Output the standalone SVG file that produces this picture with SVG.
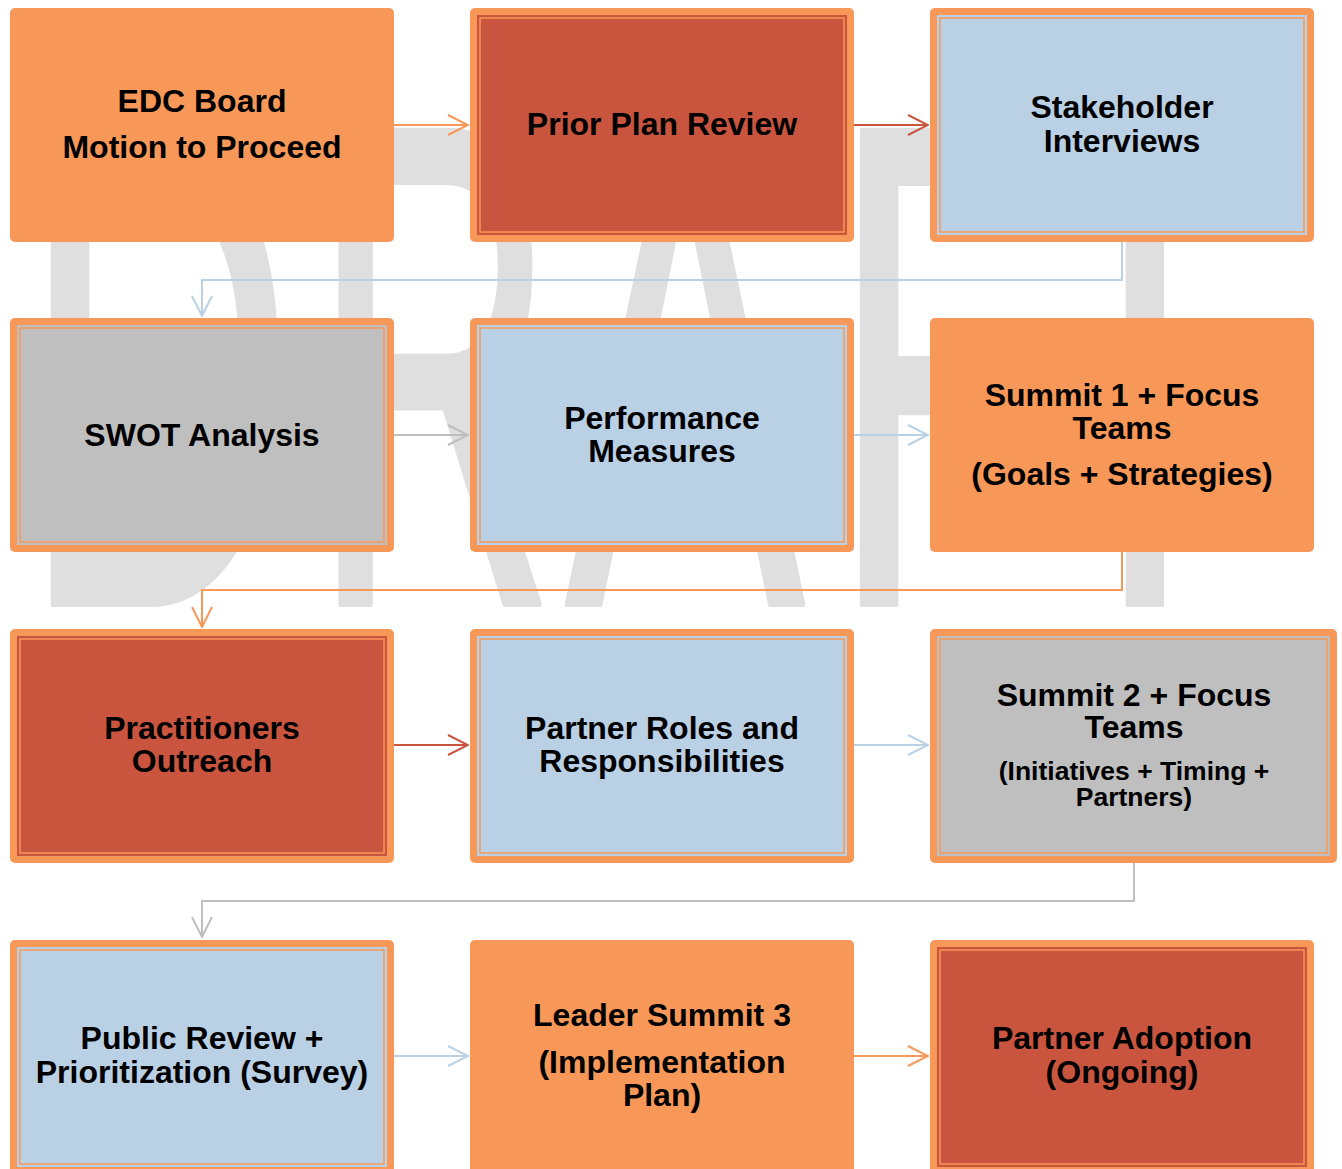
<svg xmlns="http://www.w3.org/2000/svg" width="1342" height="1169" viewBox="0 0 1342 1169">
<defs>
<style>
.lbl{font-family:"Liberation Sans",Arial,sans-serif;font-weight:bold;font-size:32px;fill:#000;text-anchor:middle}
.sm{font-size:26.5px}
.wm{font-family:"Liberation Sans",Arial,sans-serif;font-weight:normal;font-size:688px;fill:#dfdfdf;stroke:#dfdfdf;stroke-width:6;stroke-linejoin:round;text-anchor:middle}
.frame{fill:#F79858}
.line{fill:none;stroke:#F79858;stroke-width:1.5}
.red{fill:#C9553F}
.blue{fill:#B9D0E5}
.gray{fill:#BFBFBF}
.c{fill:none;stroke-width:2}
</style>
<marker id="aO" viewBox="0 0 22 22" refX="21" refY="11" markerWidth="22" markerHeight="22" markerUnits="userSpaceOnUse" orient="auto"><path d="M1,1 L21,11 L1,21" fill="none" stroke="#F79858" stroke-width="2"/></marker>
<marker id="aR" viewBox="0 0 22 22" refX="21" refY="11" markerWidth="22" markerHeight="22" markerUnits="userSpaceOnUse" orient="auto"><path d="M1,1 L21,11 L1,21" fill="none" stroke="#C9553F" stroke-width="2"/></marker>
<marker id="aB" viewBox="0 0 22 22" refX="21" refY="11" markerWidth="22" markerHeight="22" markerUnits="userSpaceOnUse" orient="auto"><path d="M1,1 L21,11 L1,21" fill="none" stroke="#B9D0E5" stroke-width="2"/></marker>
<marker id="aG" viewBox="0 0 22 22" refX="21" refY="11" markerWidth="22" markerHeight="22" markerUnits="userSpaceOnUse" orient="auto"><path d="M1,1 L21,11 L1,21" fill="none" stroke="#BFBFBF" stroke-width="2"/></marker>
</defs>
<rect width="1342" height="1169" fill="#fff"/>
<g id="watermark">
<text class="wm" transform="translate(158,604) scale(0.55,1)">D</text>
<text class="wm" transform="translate(434,604) scale(0.49,1)">R</text>
<text class="wm" transform="translate(685,604) scale(0.52,1)">A</text>
<text class="wm" transform="translate(946,604) scale(0.55,1)">F</text>
<text class="wm" transform="translate(1145,604) scale(0.55,1)">T</text>
</g>
<g id="connectors">
<line class="c" x1="394" y1="125" x2="468" y2="125" stroke="#F79858" marker-end="url(#aO)"/>
<line class="c" x1="854" y1="125" x2="928" y2="125" stroke="#C9553F" marker-end="url(#aR)"/>
<polyline class="c" points="1122,242 1122,280 202,280 202,316" stroke="#B9D0E5" marker-end="url(#aB)"/>
<line class="c" x1="394" y1="435" x2="468" y2="435" stroke="#BFBFBF" marker-end="url(#aG)"/>
<line class="c" x1="854" y1="435" x2="928" y2="435" stroke="#B9D0E5" marker-end="url(#aB)"/>
<polyline class="c" points="1122,552 1122,590 202,590 202,627" stroke="#F79858" marker-end="url(#aO)"/>
<line class="c" x1="394" y1="745" x2="468" y2="745" stroke="#C9553F" marker-end="url(#aR)"/>
<line class="c" x1="854" y1="745" x2="928" y2="745" stroke="#B9D0E5" marker-end="url(#aB)"/>
<polyline class="c" points="1134,863 1134,901 202,901 202,937" stroke="#BFBFBF" marker-end="url(#aG)"/>
<line class="c" x1="394" y1="1056" x2="468" y2="1056" stroke="#B9D0E5" marker-end="url(#aB)"/>
<line class="c" x1="854" y1="1056" x2="928" y2="1056" stroke="#F79858" marker-end="url(#aO)"/>
</g>
<g id="n1">
<rect class="frame" x="10" y="8" width="384" height="234" rx="5"/>
<text class="lbl" x="202" y="112">EDC Board</text>
<text class="lbl" x="202" y="158">Motion to Proceed</text>
</g>
<g id="n2">
<rect class="frame" x="470" y="8" width="384" height="234" rx="5"/>
<rect class="red" x="477" y="15" width="370" height="220"/>
<rect class="line" x="480" y="18" width="364" height="214"/>
<text class="lbl" x="662" y="135">Prior Plan Review</text>
</g>
<g id="n3">
<rect class="frame" x="930" y="8" width="384" height="234" rx="5"/>
<rect class="blue" x="937" y="15" width="370" height="220"/>
<rect class="line" x="940" y="18" width="364" height="214"/>
<text class="lbl" x="1122" y="118">Stakeholder</text>
<text class="lbl" x="1122" y="152">Interviews</text>
</g>
<g id="n4">
<rect class="frame" x="10" y="318" width="384" height="234" rx="5"/>
<rect class="gray" x="17" y="325" width="370" height="220"/>
<rect class="line" x="20" y="328" width="364" height="214"/>
<text class="lbl" x="202" y="446">SWOT Analysis</text>
</g>
<g id="n5">
<rect class="frame" x="470" y="318" width="384" height="234" rx="5"/>
<rect class="blue" x="477" y="325" width="370" height="220"/>
<rect class="line" x="480" y="328" width="364" height="214"/>
<text class="lbl" x="662" y="429">Performance</text>
<text class="lbl" x="662" y="462">Measures</text>
</g>
<g id="n6">
<rect class="frame" x="930" y="318" width="384" height="234" rx="5"/>
<text class="lbl" x="1122" y="406">Summit 1 + Focus</text>
<text class="lbl" x="1122" y="439">Teams</text>
<text class="lbl" x="1122" y="485">(Goals + Strategies)</text>
</g>
<g id="n7">
<rect class="frame" x="10" y="629" width="384" height="234" rx="5"/>
<rect class="red" x="17" y="636" width="370" height="220"/>
<rect class="line" x="20" y="639" width="364" height="214"/>
<text class="lbl" x="202" y="739">Practitioners</text>
<text class="lbl" x="202" y="772">Outreach</text>
</g>
<g id="n8">
<rect class="frame" x="470" y="629" width="384" height="234" rx="5"/>
<rect class="blue" x="477" y="636" width="370" height="220"/>
<rect class="line" x="480" y="639" width="364" height="214"/>
<text class="lbl" x="662" y="739">Partner Roles and</text>
<text class="lbl" x="662" y="772">Responsibilities</text>
</g>
<g id="n9">
<rect class="frame" x="930" y="629" width="407" height="234" rx="5"/>
<rect class="gray" x="937" y="636" width="393" height="220"/>
<rect class="line" x="940" y="639" width="387" height="214"/>
<text class="lbl" x="1134" y="706">Summit 2 + Focus</text>
<text class="lbl" x="1134" y="738">Teams</text>
<text class="lbl sm" x="1134" y="780">(Initiatives + Timing +</text>
<text class="lbl sm" x="1134" y="806">Partners)</text>
</g>
<g id="n10">
<rect class="frame" x="10" y="940" width="384" height="234" rx="5"/>
<rect class="blue" x="17" y="947" width="370" height="220"/>
<rect class="line" x="20" y="950" width="364" height="214"/>
<text class="lbl" x="202" y="1049">Public Review +</text>
<text class="lbl" x="202" y="1083">Prioritization (Survey)</text>
</g>
<g id="n11">
<rect class="frame" x="470" y="940" width="384" height="234" rx="5"/>
<text class="lbl" x="662" y="1026">Leader Summit 3</text>
<text class="lbl" x="662" y="1073">(Implementation</text>
<text class="lbl" x="662" y="1106">Plan)</text>
</g>
<g id="n12">
<rect class="frame" x="930" y="940" width="384" height="234" rx="5"/>
<rect class="red" x="937" y="947" width="370" height="220"/>
<rect class="line" x="940" y="950" width="364" height="214"/>
<text class="lbl" x="1122" y="1049">Partner Adoption</text>
<text class="lbl" x="1122" y="1083">(Ongoing)</text>
</g>
</svg>
